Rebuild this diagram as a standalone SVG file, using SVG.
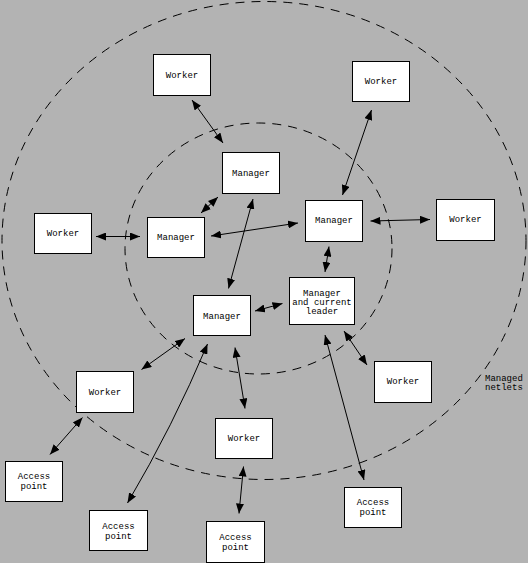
<svg xmlns="http://www.w3.org/2000/svg" width="528" height="563" viewBox="0 0 528 563">
<style>
.n rect{fill:#fff;stroke:#000;stroke-width:1}
.n text,.lbl{font-family:"Liberation Mono","DejaVu Sans Mono",monospace;font-size:9px;fill:#000}
.n text{text-anchor:middle}
.c line,.c path{stroke:#000;stroke-width:1;fill:none;marker-start:url(#ah);marker-end:url(#ah)}
.ring{fill:none;stroke:#000;stroke-width:1;stroke-dasharray:9,7}
</style>
<defs>
<marker id="ah" viewBox="0 0 10 8" refX="10" refY="4" markerWidth="10" markerHeight="8" markerUnits="userSpaceOnUse" orient="auto-start-reverse">
<path d="M0,0 L10,4 L0,8 z" fill="#000"/>
</marker>
</defs>
<rect width="528" height="563" fill="#b3b3b3"/>
<ellipse class="ring" cx="264" cy="240.5" rx="262" ry="239"/>
<ellipse class="ring" cx="258.5" cy="248.5" rx="133.5" ry="125.5"/>
<text class="lbl" x="485" y="380.5">Managed</text>
<text class="lbl" x="485" y="389.5">netlets</text>
<g class="c">
<line x1="192" y1="100" x2="223" y2="143"/>
<line x1="201" y1="213" x2="218" y2="197"/>
<line x1="96" y1="236.5" x2="140" y2="236.5"/>
<line x1="211" y1="236" x2="298" y2="223"/>
<line x1="253" y1="199" x2="228.5" y2="288.5"/>
<line x1="371.5" y1="110" x2="342.5" y2="195"/>
<line x1="370.5" y1="221" x2="430" y2="219.5"/>
<line x1="329" y1="246.5" x2="325" y2="272"/>
<line x1="255" y1="311" x2="282.5" y2="303.5"/>
<line x1="185" y1="338.5" x2="141.5" y2="369.5"/>
<path d="M207.5,344 Q173,426 127.5,503"/>
<line x1="235" y1="347.5" x2="245" y2="408.5"/>
<line x1="82.5" y1="417.5" x2="50" y2="454.5"/>
<line x1="243.5" y1="466.5" x2="239" y2="513.5"/>
<line x1="344" y1="331" x2="367" y2="365"/>
<line x1="325" y1="335" x2="364" y2="480"/>
</g>
<g id="worker-tl" class="n"><rect x="153.5" y="54.5" width="57" height="41"/><text x="182" y="78">Worker</text></g>
<g id="worker-tr" class="n"><rect x="352.5" y="61.5" width="57" height="40"/><text x="381" y="84">Worker</text></g>
<g id="manager-top" class="n"><rect x="222.5" y="152.5" width="57" height="41"/><text x="251" y="176">Manager</text></g>
<g id="worker-left" class="n"><rect x="34.5" y="213.5" width="57" height="40"/><text x="63" y="236">Worker</text></g>
<g id="manager-left" class="n"><rect x="147.5" y="217.5" width="57" height="40"/><text x="176" y="240">Manager</text></g>
<g id="manager-right" class="n"><rect x="305.5" y="200.5" width="57" height="41"/><text x="334" y="223">Manager</text></g>
<g id="worker-right" class="n"><rect x="436.5" y="199.5" width="58" height="41"/><text x="465.5" y="222">Worker</text></g>
<g id="leader" class="n"><rect x="289.5" y="277.5" width="65" height="47"/><text x="322" y="295.5">Manager</text><text x="322" y="304.5">and current</text><text x="322" y="313.5">leader</text></g>
<g id="manager-bottom" class="n"><rect x="193.5" y="295.5" width="57" height="40"/><text x="222" y="318.5">Manager</text></g>
<g id="worker-rl" class="n"><rect x="374.5" y="361.5" width="57" height="41"/><text x="403" y="384">Worker</text></g>
<g id="worker-ll" class="n"><rect x="76.5" y="371.5" width="57" height="41"/><text x="105" y="395">Worker</text></g>
<g id="worker-bottom" class="n"><rect x="215.5" y="418.5" width="57" height="40"/><text x="244" y="441">Worker</text></g>
<g id="ap-left" class="n"><rect x="5.5" y="461.5" width="57" height="40"/><text x="34" y="479">Access</text><text x="34" y="489">point</text></g>
<g id="ap-right" class="n"><rect x="344.5" y="487.5" width="57" height="40"/><text x="373" y="505">Access</text><text x="373" y="515">point</text></g>
<g id="ap-midleft" class="n"><rect x="89.5" y="510.5" width="58" height="40"/><text x="118.5" y="528.5">Access</text><text x="118.5" y="538.5">point</text></g>
<g id="ap-bottom" class="n"><rect x="206.5" y="521.5" width="58" height="41"/><text x="235.5" y="540">Access</text><text x="235.5" y="549.5">point</text></g>
</svg>
